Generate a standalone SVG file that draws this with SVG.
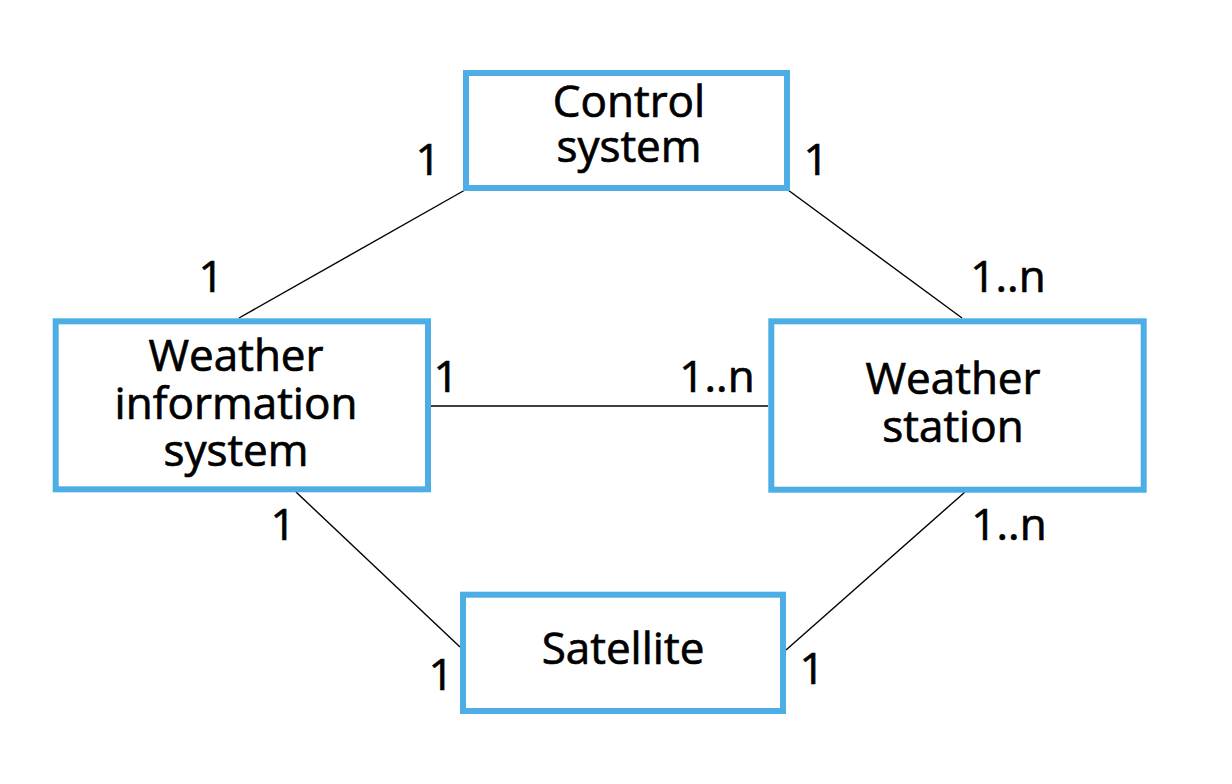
<svg xmlns="http://www.w3.org/2000/svg" width="1232" height="784" viewBox="0 0 1232 784">
<style>
.box{fill:#ffffff;stroke:#4daee6;stroke-width:6}
.lbl{font-family:"Open Sans","Noto Sans",sans-serif;font-size:44px;fill:#000;stroke:#000;stroke-width:0.7;text-anchor:middle}
.mul{font-family:"Open Sans","Noto Sans",sans-serif;font-size:44px;fill:#000;stroke:#000;stroke-width:0.7;text-anchor:middle}
.conn{stroke:#000;stroke-width:1.4;fill:none}
</style>
<rect width="1232" height="784" fill="#ffffff"/>
<g id="connectors">
<line class="conn" x1="465" y1="190" x2="239" y2="318"/>
<line class="conn" x1="788" y1="190" x2="962" y2="318"/>
<line class="conn" x1="431" y1="406" x2="768" y2="406"/>
<line class="conn" x1="296" y1="492" x2="460" y2="647"/>
<line class="conn" x1="965" y1="492" x2="786" y2="650"/>
</g>
<g id="control-system">
<rect class="box" x="466" y="73" width="321" height="115"/>
<text class="lbl" x="629" y="117">Control</text>
<text class="lbl" x="629" y="162">system</text>
</g>
<g id="weather-information-system">
<rect class="box" x="55.7" y="321.3" width="372.3" height="168"/>
<text class="lbl" x="236" y="371">Weather</text>
<text class="lbl" x="236" y="419">information</text>
<text class="lbl" x="236" y="466">system</text>
</g>
<g id="weather-station">
<rect class="box" x="771.3" y="321.3" width="372.4" height="168.4"/>
<text class="lbl" x="953" y="394">Weather</text>
<text class="lbl" x="953" y="442">station</text>
</g>
<g id="satellite">
<rect class="box" x="463" y="594.7" width="320" height="116.3"/>
<text class="lbl" x="623" y="664">Satellite</text>
</g>
<g id="multiplicities">
<text class="mul" x="428" y="175">1</text>
<text class="mul" x="816" y="175">1</text>
<text class="mul" x="211" y="292">1</text>
<text class="mul" x="1008" y="292">1..n</text>
<text class="mul" x="446" y="392">1</text>
<text class="mul" x="717" y="392">1..n</text>
<text class="mul" x="283" y="540">1</text>
<text class="mul" x="1009" y="540">1..n</text>
<text class="mul" x="441" y="690">1</text>
<text class="mul" x="812" y="684">1</text>
</g>
</svg>
